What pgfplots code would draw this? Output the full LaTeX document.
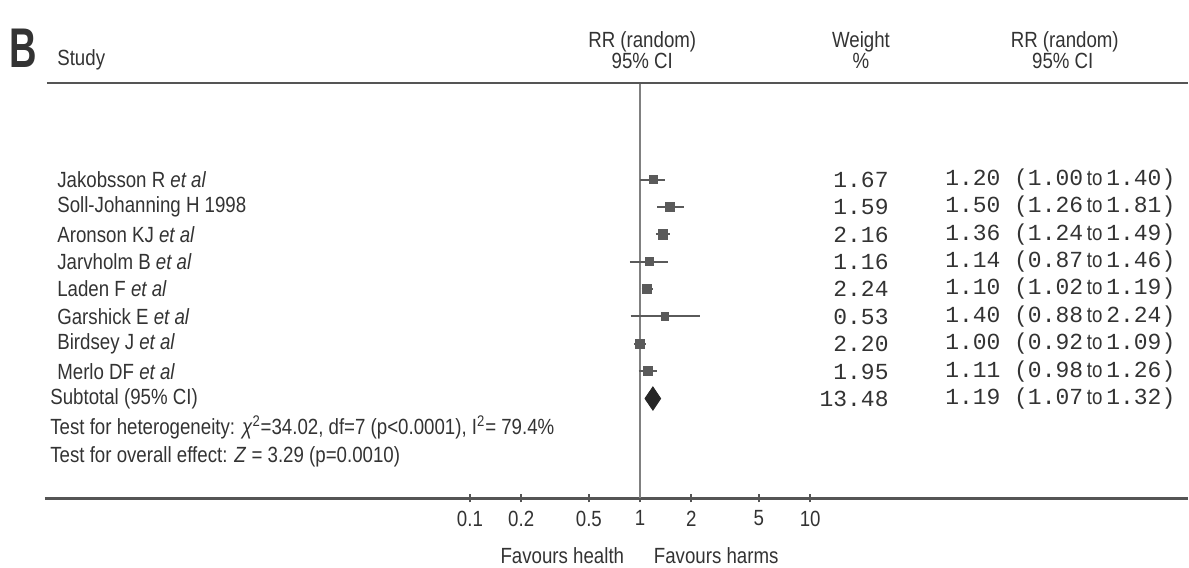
\documentclass[border=0pt]{standalone}
\usepackage{pgfplots}
\pgfplotsset{compat=1.18}
\usepackage{graphicx}
\usepackage{fontspec}
\setmainfont{Liberation Sans}
\newfontfamily\mono{Liberation Mono}
\definecolor{ink}{HTML}{333333}
\definecolor{rule}{HTML}{555555}
\definecolor{mk}{HTML}{5A5A5A}
% narrow sans, the scan is squeezed sideways
\newcommand{\nr}[1]{\scalebox{0.85}[1]{#1}}
\newcommand{\nm}[1]{{\mono #1}}
\newcommand{\ci}[3]{\nm{#1 (#2}\,\nr{\fontsize{11}{13}\selectfont to}\,\nm{#3)}}
\begin{document}
\begin{tikzpicture}[every node/.style={text=ink, inner sep=0pt}]
\begin{axis}[
  at={(22.5pt,-249.5pt)}, anchor=south west, scale only axis,
  width=572pt, height=208pt,
  xmode=log, xmin=3.17e-4, xmax=1657, ymin=-0.65, ymax=14.533,
  axis x line=bottom, axis y line=none,
  axis line style={-, rule, line width=1.4pt},
  xtick={0.1,0.2,0.5,1,2,5,10},
  xticklabels={\nr{0.1},\nr{0.2},\nr{0.5},\nr{1},\nr{2},\nr{5},\nr{10}},
  minor xtick={},
  tick align=center, major tick length=4pt,
  tick style={rule, line width=0.8pt},
  xticklabel style={font=\fontsize{11}{13}\selectfont, text=ink, yshift=-4pt},
  clip=false,
  ci/.style={mk, line width=1pt, mark=square*, mark indices={2},
    mark options={fill=mk, draw=mk}},
]
% line of no effect
\addplot[gray, line width=1pt] coordinates {(1,-0.65) (1,14.533)};
% studies: (lower, RR, upper) at row y
\addplot[ci, mark size=1.9pt]  coordinates {(1.00,11) (1.20,11) (1.40,11)};
\addplot[ci, mark size=1.85pt] coordinates {(1.26,10) (1.50,10) (1.81,10)};
\addplot[ci, mark size=2.1pt]  coordinates {(1.24,9) (1.36,9) (1.49,9)};
\addplot[ci, mark size=1.8pt]  coordinates {(0.87,8) (1.14,8) (1.46,8)};
\addplot[ci, mark size=2.1pt]  coordinates {(1.02,7) (1.10,7) (1.19,7)};
\addplot[ci, mark size=1.7pt]  coordinates {(0.88,6) (1.40,6) (2.24,6)};
\addplot[ci, mark size=2.1pt]  coordinates {(0.92,5) (1.00,5) (1.09,5)};
\addplot[ci, mark size=2.0pt]  coordinates {(0.98,4) (1.11,4) (1.26,4)};
% pooled estimate
\addplot[fill=black!85, draw=black!85, line width=0.5pt]
  coordinates {(1.07,3) (1.19,3.42) (1.32,3) (1.19,2.58) (1.07,3)};
\end{axis}

\begin{scope}[x=0.5pt, y=-0.5pt]
\path[use as bounding box] (0,0) rectangle (1189,568);
\draw[rule, line width=1.4pt] (47,83) -- (1189,83);

\node[anchor=west, font=\fontsize{28}{30}\selectfont\bfseries] at (9,48) {\scalebox{0.68}[1]{B}};

\begin{scope}[every node/.append style={font=\fontsize{11}{13}\selectfont}]
\node[anchor=west] at (57,60) {\nr{Study}};
\node at (643,42) {\nr{RR (random)}};
\node at (643,61) {\nr{95\% CI}};
\node at (862,42) {\nr{Weight}};
\node at (862,61) {\nr{\%}};
\node at (1066,42) {\nr{RR (random)}};
\node at (1064,61) {\nr{95\% CI}};

\node[anchor=west] at (57,180) {\nr{Jakobsson R \textit{et al}}};
\node[anchor=west] at (57,207) {\nr{Soll-Johanning H 1998}};
\node[anchor=west] at (57,235) {\nr{Aronson KJ \textit{et al}}};
\node[anchor=west] at (57,262) {\nr{Jarvholm B \textit{et al}}};
\node[anchor=west] at (57,289) {\nr{Laden F \textit{et al}}};
\node[anchor=west] at (57,317) {\nr{Garshick E \textit{et al}}};
\node[anchor=west] at (57,344) {\nr{Birdsey J \textit{et al}}};
\node[anchor=west] at (57,372) {\nr{Merlo DF \textit{et al}}};
\node[anchor=west] at (50,399) {\nr{Subtotal (95\% CI)}};
\node[anchor=west] at (50,428) {\nr{Test for heterogeneity: \textit{χ}\textsuperscript{2}=34.02, df=7 (p<0.0001), I\textsuperscript{2}= 79.4\%}};
\node[anchor=west] at (50,457) {\nr{Test for overall effect: \textit{Z} = 3.29 (p=0.0010)}};

\node at (563,556) {\nr{Favours health}};
\node at (717,556) {\nr{Favours harms}};
\end{scope}

\begin{scope}[every node/.append style={font=\fontsize{11.5}{13}\selectfont}]
\node[anchor=east] at (890,180) {\nm{1.67}};
\node[anchor=east] at (890,207) {\nm{1.59}};
\node[anchor=east] at (890,235) {\nm{2.16}};
\node[anchor=east] at (890,262) {\nm{1.16}};
\node[anchor=east] at (890,289) {\nm{2.24}};
\node[anchor=east] at (890,317) {\nm{0.53}};
\node[anchor=east] at (890,344) {\nm{2.20}};
\node[anchor=east] at (890,372) {\nm{1.95}};
\node[anchor=east] at (890,399) {\nm{13.48}};

\node[anchor=west] at (946,180) {\ci{1.20}{1.00}{1.40}};
\node[anchor=west] at (946,207) {\ci{1.50}{1.26}{1.81}};
\node[anchor=west] at (946,235) {\ci{1.36}{1.24}{1.49}};
\node[anchor=west] at (946,262) {\ci{1.14}{0.87}{1.46}};
\node[anchor=west] at (946,289) {\ci{1.10}{1.02}{1.19}};
\node[anchor=west] at (946,317) {\ci{1.40}{0.88}{2.24}};
\node[anchor=west] at (946,344) {\ci{1.00}{0.92}{1.09}};
\node[anchor=west] at (946,372) {\ci{1.11}{0.98}{1.26}};
\node[anchor=west] at (946,399) {\ci{1.19}{1.07}{1.32}};
\end{scope}
\end{scope}
\end{tikzpicture}
\end{document}
